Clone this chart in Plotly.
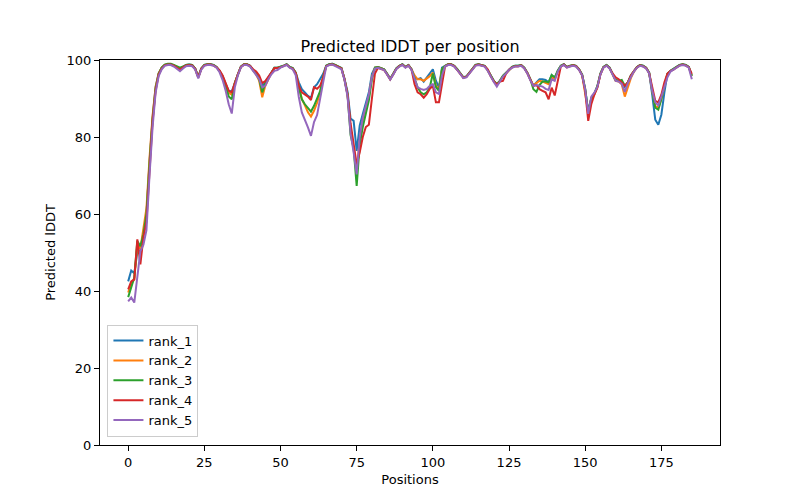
import plotly.graph_objects as go

rank_1 = [
    42.5, 45.3, 44.6, 50.0, 50.5, 55.0, 60.0, 73.5, 85.0, 93.0,
    96.5, 98.0, 98.7, 98.9, 98.9, 98.6, 98.1, 97.6, 98.2, 98.7,
    98.8, 98.7, 97.8, 95.6, 97.8, 98.7, 98.9, 98.9, 98.7, 98.2,
    97.2, 95.8, 93.8, 92.0, 91.8, 94.2, 96.3, 98.3, 98.9, 98.9,
    98.5, 97.4, 96.6, 95.2, 93.3, 94.2, 95.4, 96.7, 98.0, 98.0,
    98.2, 98.5, 98.9, 98.2, 97.9, 96.7, 94.2, 92.4, 91.6, 90.7,
    90.2, 92.9, 93.7, 95.0, 96.4, 98.5, 98.9, 99.0, 98.7, 98.3,
    97.9, 95.1, 91.8, 84.8, 84.2, 76.4, 83.0, 86.0, 88.5, 91.6,
    96.4, 98.0, 98.2, 98.0, 97.6, 96.4, 95.1, 96.4, 97.8, 98.5,
    98.9, 98.2, 98.7, 97.6, 95.5, 95.0, 95.3, 94.4, 95.4, 96.3,
    97.6, 94.6, 92.9, 98.0, 98.5, 98.9, 98.9, 98.5, 97.6, 96.5,
    95.5, 95.7, 96.7, 98.0, 98.7, 98.9, 98.7, 98.5, 97.4, 95.9,
    94.6, 93.7, 94.6, 95.9, 96.7, 97.6, 98.2, 98.5, 98.5, 98.7,
    98.0, 96.7, 95.0, 93.3, 94.2, 95.0, 95.0, 94.8, 94.2, 96.1,
    95.2, 97.2, 98.5, 98.9, 98.2, 98.5, 98.7, 98.5, 97.6, 96.2,
    92.5, 86.5, 90.0, 91.2, 93.2, 96.5, 98.2, 98.7, 98.0, 96.4,
    94.8, 94.6, 94.3, 93.0, 94.2, 96.0, 97.2, 98.2, 98.7, 98.5,
    98.0, 96.7, 91.0, 84.5, 83.2, 85.8, 91.6, 96.4, 97.2, 97.6,
    98.2, 98.7, 98.9, 98.7, 98.2, 95.9,
]

rank_2 = [
    39.6, 42.0, 43.0, 52.0, 51.0, 56.0, 61.5, 74.5, 85.5, 93.0,
    96.5, 98.0, 98.7, 98.9, 98.8, 98.5, 98.0, 97.5, 98.1, 98.6,
    98.7, 98.6, 97.7, 95.5, 97.7, 98.6, 98.8, 98.8, 98.6, 98.1,
    97.1, 95.6, 93.5, 91.5, 91.0, 94.0, 96.2, 98.2, 98.8, 98.8,
    98.4, 97.2, 96.3, 94.6, 90.3, 93.3, 95.2, 96.6, 97.9, 97.9,
    98.1, 98.4, 98.8, 98.1, 97.8, 96.6, 92.9, 89.8, 88.2, 86.4,
    85.3, 86.8, 88.9, 91.6, 95.5, 98.4, 98.8, 98.9, 98.6, 98.2,
    97.8, 95.0, 91.0, 82.0, 77.0, 71.8, 79.0, 84.0, 87.5, 90.5,
    95.5, 98.0, 98.1, 97.9, 97.5, 96.3, 95.0, 96.3, 97.7, 98.4,
    98.8, 98.1, 98.6, 97.6, 96.0, 95.0, 95.0, 94.6, 95.2, 95.8,
    96.7, 93.3, 92.4, 97.6, 98.4, 98.8, 98.8, 98.4, 97.5, 96.4,
    95.4, 95.6, 96.6, 97.9, 98.6, 98.8, 98.6, 98.4, 97.3, 95.8,
    94.5, 93.6, 94.5, 95.8, 96.6, 97.5, 98.1, 98.4, 98.4, 98.6,
    97.9, 96.6, 94.9, 93.3, 94.0, 94.6, 94.4, 94.0, 93.7, 95.5,
    95.0, 97.1, 98.4, 98.8, 98.1, 98.4, 98.6, 98.4, 97.5, 96.0,
    91.5, 86.5, 90.0, 91.0, 93.0, 96.3, 98.1, 98.6, 97.9, 96.3,
    94.6, 94.4, 93.7, 90.5, 93.0, 95.3, 97.0, 98.1, 98.6, 98.4,
    97.9, 96.6, 92.0, 88.0, 87.6, 89.8, 93.3, 96.3, 97.1, 97.5,
    98.1, 98.6, 98.8, 98.6, 98.1, 95.9,
]

rank_3 = [
    38.4, 41.0, 43.5, 53.0, 51.6, 54.7, 60.0, 73.0, 84.5, 92.5,
    96.4, 98.0, 98.8, 99.0, 99.0, 98.7, 98.3, 98.0, 98.3, 98.7,
    98.8, 98.7, 97.8, 95.6, 97.8, 98.7, 98.9, 98.9, 98.7, 98.2,
    97.1, 95.6, 93.3, 90.5, 89.8, 94.0, 96.2, 98.3, 98.9, 98.9,
    98.5, 97.3, 96.5, 95.0, 91.6, 94.0, 95.3, 96.7, 98.0, 98.0,
    98.2, 98.5, 98.9, 98.2, 97.9, 96.7, 92.9, 89.8, 88.5, 87.5,
    86.6, 88.1, 90.2, 91.9, 95.5, 98.5, 98.9, 99.0, 98.7, 98.2,
    97.9, 95.0, 91.0, 80.5, 77.0, 67.3, 78.0, 82.6, 85.8, 89.5,
    95.0, 98.0, 98.2, 98.0, 97.6, 96.4, 95.1, 96.4, 97.8, 98.5,
    98.9, 98.2, 98.7, 97.6, 95.5, 92.9, 91.6, 91.1, 91.6, 92.9,
    96.5, 93.0, 92.0, 97.6, 98.5, 98.9, 98.9, 98.5, 97.6, 96.5,
    95.5, 95.7, 96.7, 98.0, 98.7, 98.9, 98.7, 98.5, 97.4, 95.9,
    94.6, 93.7, 94.6, 95.9, 96.7, 97.6, 98.2, 98.5, 98.5, 98.7,
    98.0, 96.7, 95.0, 92.4, 91.7, 93.5, 94.4, 94.4, 94.2, 96.1,
    95.5, 97.2, 98.5, 98.9, 98.2, 98.5, 98.7, 98.5, 97.6, 96.2,
    92.5, 86.5, 90.0, 91.2, 93.2, 96.5, 98.2, 98.7, 98.0, 96.4,
    94.8, 94.6, 94.8, 93.3, 94.2, 96.0, 97.2, 98.2, 98.7, 98.5,
    98.0, 96.7, 92.0, 87.6, 87.1, 89.8, 93.3, 96.4, 97.2, 97.6,
    98.2, 98.7, 98.9, 98.7, 98.2, 95.9,
]

rank_4 = [
    40.4, 42.5, 43.0, 53.4, 46.9, 54.0, 58.0, 72.0, 84.0, 92.0,
    96.2, 97.8, 98.6, 98.8, 98.8, 98.5, 98.0, 97.5, 98.1, 98.6,
    98.7, 98.6, 97.7, 95.5, 97.7, 98.6, 98.8, 98.8, 98.6, 98.1,
    97.3, 96.0, 94.0, 92.0, 91.6, 94.2, 96.3, 98.2, 98.8, 98.8,
    98.5, 97.6, 97.0, 96.0, 94.0, 94.5, 95.5, 96.7, 97.9, 97.9,
    98.1, 98.4, 98.8, 98.1, 97.8, 96.6, 93.3, 91.6, 91.1, 90.5,
    89.6, 92.9, 92.5, 93.3, 95.5, 98.4, 98.8, 98.9, 98.6, 98.2,
    97.8, 95.0, 91.0, 83.5, 78.0, 72.9, 76.0, 80.0, 82.6, 83.2,
    90.0, 96.5, 98.0, 97.6, 97.4, 96.3, 95.0, 96.3, 97.7, 98.4,
    98.8, 98.1, 98.6, 97.5, 93.7, 91.6, 91.1, 90.2, 91.1, 92.5,
    93.3, 89.0, 89.0, 93.7, 98.3, 98.8, 98.8, 98.4, 97.5, 96.4,
    95.4, 95.6, 96.6, 97.9, 98.6, 98.8, 98.6, 98.4, 97.6, 95.8,
    94.5, 93.6, 94.4, 94.6, 96.4, 97.5, 98.1, 98.4, 98.4, 98.6,
    97.9, 96.6, 94.9, 93.3, 93.5, 92.4, 92.0, 91.6, 89.8, 92.8,
    90.8, 95.0, 98.3, 98.8, 98.1, 98.4, 98.6, 98.4, 97.5, 96.0,
    92.0, 84.2, 88.5, 91.0, 92.8, 96.3, 98.1, 98.6, 97.9, 96.5,
    95.5, 95.0, 94.0, 93.3, 94.2, 96.0, 97.1, 98.1, 98.6, 98.4,
    97.9, 96.6, 93.0, 89.4, 89.0, 91.0, 94.2, 96.5, 97.2, 97.5,
    98.1, 98.6, 98.8, 98.6, 98.1, 96.4,
]

rank_5 = [
    37.3, 38.3, 37.0, 44.5, 50.3, 52.0, 55.8, 70.0, 82.5, 91.5,
    95.8, 97.6, 98.5, 98.7, 98.7, 98.3, 97.6, 97.1, 97.8, 98.4,
    98.5, 98.4, 97.5, 95.2, 97.5, 98.5, 98.7, 98.7, 98.5, 98.0,
    96.8, 94.8, 92.0, 88.5, 86.1, 92.9, 96.0, 98.1, 98.7, 98.7,
    98.3, 97.2, 96.3, 95.0, 92.9, 93.3, 95.0, 96.3, 97.2, 97.4,
    98.0, 98.3, 98.7, 98.0, 97.6, 96.0, 90.4, 86.4, 84.6, 82.5,
    80.3, 83.9, 85.7, 90.4, 94.2, 98.3, 98.7, 98.8, 98.5, 98.0,
    97.6, 94.8, 90.5, 81.0, 76.0, 70.3, 80.0, 85.0, 88.0, 91.0,
    95.5, 97.8, 98.0, 97.8, 97.4, 96.2, 94.9, 96.2, 97.6, 98.3,
    98.7, 98.0, 98.5, 97.4, 95.3, 92.9, 92.5, 92.2, 92.5, 93.3,
    93.7, 91.6, 91.2, 96.0, 98.3, 98.7, 98.7, 98.3, 97.4, 96.3,
    95.3, 95.5, 96.5, 97.8, 98.5, 98.7, 98.5, 98.3, 97.2, 95.6,
    94.3, 93.1, 94.3, 95.7, 96.5, 97.4, 98.0, 98.3, 98.3, 98.5,
    97.8, 96.5, 94.7, 93.3, 93.5, 93.3, 93.1, 92.5, 92.2, 95.0,
    94.6, 97.0, 98.3, 98.7, 98.0, 98.3, 98.5, 98.3, 97.4, 96.0,
    92.3, 86.0, 90.5, 91.5, 93.0, 96.2, 98.0, 98.5, 97.8, 96.2,
    94.6, 94.4, 93.8, 91.7, 94.0, 95.5, 97.0, 98.0, 98.5, 98.3,
    97.8, 96.5, 92.0, 89.0, 88.2, 90.5, 93.3, 95.5, 97.0, 97.4,
    98.0, 98.5, 98.7, 98.5, 98.0, 95.0,
]

series_names = ["rank_1", "rank_2", "rank_3", "rank_4", "rank_5"]
series_values = [rank_1, rank_2, rank_3, rank_4, rank_5]
colors = ["#1f77b4", "#ff7f0e", "#2ca02c", "#d62728", "#9467bd"]
x_ticks = [0, 25, 50, 75, 100, 125, 150, 175]
y_ticks = [0, 20, 40, 60, 80, 100]

positions = list(range(len(rank_1)))

fig = go.Figure()
for name, vals, col in zip(series_names, series_values, colors):
    fig.add_trace(go.Scatter(
        x=positions, y=vals, mode="lines", name=name,
        line=dict(color=col, width=2),
    ))

font = "DejaVu Sans"
fig.update_layout(
    width=800, height=500,
    paper_bgcolor="white", plot_bgcolor="white",
    margin=dict(l=92, r=88, t=52, b=63),
    font=dict(family=font, size=13, color="black"),
    title=dict(text="Predicted lDDT per position", x=0.5, xref="paper",
               y=1 - 38 / 500, yref="container", xanchor="center", yanchor="middle",
               font=dict(family=font, size=16, color="black")),
    showlegend=True,
    legend=dict(x=0.012, y=0.022, xanchor="left", yanchor="bottom",
                bgcolor="rgba(255,255,255,0.8)", bordercolor="#cccccc", borderwidth=1,
                font=dict(family=font, size=13), tracegroupgap=0,
                itemwidth=30),
)
fig.update_xaxes(
    range=[-9.25, 194.25], tickvals=x_ticks, ticktext=[str(t) for t in x_ticks],
    showgrid=False, zeroline=False, showline=True, linecolor="black", linewidth=1,
    mirror=True, ticks="outside", ticklen=5, tickcolor="black",
    title=dict(text="Positions", font=dict(family=font, size=13), standoff=6),
    tickfont=dict(family=font, size=13),
)
fig.update_yaxes(
    range=[0, 100], tickvals=y_ticks, ticktext=[str(t) for t in y_ticks],
    showgrid=False, zeroline=False, showline=True, linecolor="black", linewidth=1,
    mirror=True, ticks="outside", ticklen=5, tickcolor="black",
    title=dict(text="Predicted lDDT", font=dict(family=font, size=13), standoff=8),
    tickfont=dict(family=font, size=13),
)

fig.write_html("out.html")
